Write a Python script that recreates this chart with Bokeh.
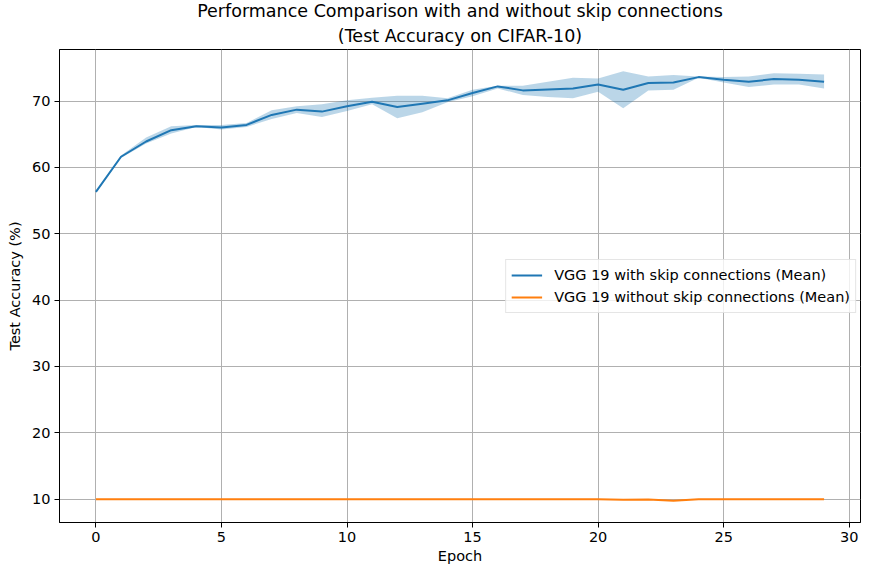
from bokeh.plotting import figure
from bokeh.models import Range1d, Title, FixedTicker, ColumnDataSource
from bokeh.embed import file_html
from bokeh.resources import INLINE

epochs = list(range(30))
mean_skip = [56.3, 61.6, 63.9, 65.6, 66.2, 66.0, 66.4, 67.9, 68.7, 68.4,
             69.2, 69.9, 69.1, 69.6, 70.1, 71.2, 72.2, 71.6, 71.75, 71.9,
             72.5, 71.7, 72.7, 72.8, 73.6, 73.2, 72.9, 73.3, 73.2, 72.9]
upper_skip = [56.4, 61.8, 64.5, 66.2, 66.4, 66.4, 66.7, 68.6, 69.2, 69.5,
              70.1, 70.5, 70.8, 70.8, 70.4, 71.7, 72.3, 72.3, 72.9, 73.5,
              73.4, 74.5, 73.7, 73.9, 73.7, 73.6, 73.7, 74.2, 74.1, 74.0]
lower_skip = [56.2, 61.4, 63.6, 65.1, 66.1, 65.7, 66.1, 67.3, 68.2, 67.6,
              68.5, 69.5, 67.4, 68.3, 69.8, 70.7, 71.9, 70.9, 70.6, 70.4,
              71.4, 68.9, 71.6, 71.7, 73.5, 72.8, 72.1, 72.5, 72.5, 71.9]
mean_noskip = [10.0, 10.0, 10.0, 10.0, 10.0, 10.0, 10.0, 10.0, 10.0, 10.0,
               10.0, 10.0, 10.0, 10.0, 10.0, 10.0, 10.0, 10.0, 10.0, 10.0,
               10.0, 9.93, 9.96, 9.78, 9.98, 10.0, 10.0, 10.0, 10.0, 10.0]
x_ticks = [0, 5, 10, 15, 20, 25, 30]
y_ticks = [10, 20, 30, 40, 50, 60, 70]

title1 = "Performance Comparison with and without skip connections"
title2 = "(Test Accuracy on CIFAR-10)"
label_skip = "VGG 19 with skip connections (Mean)"
label_noskip = "VGG 19 without skip connections (Mean)"

FONT = "DejaVu Sans"
BLUE = "#1f77b4"
ORANGE = "#ff7f0e"
TXT = "14.5px"

src = ColumnDataSource(dict(epoch=epochs, mean_skip=mean_skip, upper=upper_skip,
                            lower=lower_skip, mean_noskip=mean_noskip))

p = figure(width=862, height=566, output_backend="svg", toolbar_location=None,
           x_range=Range1d(-1.45, 30.45), y_range=Range1d(6.49, 77.76),
           min_border_left=59, min_border_right=2, min_border_top=47,
           min_border_bottom=44, title=None)

# Titles: the first one added sits closest to the frame
t2 = Title(text=title2, text_font=FONT, text_font_size="17.5px", text_font_style="normal",
           align="center", standoff=8, text_color="black")
p.add_layout(t2, "above")
t1 = Title(text=title1, text_font=FONT, text_font_size="17.5px", text_font_style="normal",
           align="center", standoff=-3, text_color="black")
p.add_layout(t1, "above")

p.varea(x="epoch", y1="lower", y2="upper", source=src, fill_color=BLUE, fill_alpha=0.3)
p.line(x="epoch", y="mean_skip", source=src, line_color=BLUE, line_width=2,
       legend_label=label_skip)
p.line(x="epoch", y="mean_noskip", source=src, line_color=ORANGE, line_width=2,
       legend_label=label_noskip)

p.xaxis.ticker = FixedTicker(ticks=x_ticks)
p.yaxis.ticker = FixedTicker(ticks=y_ticks)
p.xaxis.axis_label = "Epoch"
p.yaxis.axis_label = "Test Accuracy (%)"
for ax in (p.xaxis, p.yaxis):
    ax.axis_label_text_font = FONT
    ax.axis_label_text_font_size = TXT
    ax.axis_label_text_font_style = "normal"
    ax.axis_label_text_color = "black"
    ax.major_label_text_font = FONT
    ax.major_label_text_font_size = TXT
    ax.major_label_text_color = "black"
    ax.axis_line_color = "black"
    ax.major_tick_line_color = "black"
    ax.major_tick_out = 5
    ax.major_tick_in = 0
    ax.minor_tick_line_color = None
    ax.major_label_standoff = 4
p.xaxis.axis_label_standoff = 3
p.yaxis.axis_label_standoff = 6

p.xgrid.ticker = FixedTicker(ticks=x_ticks)
p.ygrid.ticker = FixedTicker(ticks=y_ticks)
p.grid.grid_line_color = "#b0b0b0"
p.grid.grid_line_width = 1
p.outline_line_color = "black"
p.outline_line_width = 1
p.background_fill_color = "white"
p.border_fill_color = "white"

lg = p.legend[0]
lg.location = "right"
lg.label_text_font = FONT
lg.label_text_font_size = TXT
lg.label_text_color = "black"
lg.padding = 5
lg.spacing = 2
lg.label_height = 20
lg.glyph_width = 31
lg.label_standoff = 12
lg.border_line_color = "#cccccc"
lg.background_fill_alpha = 0.8
lg.margin = 4

open("out.html", "w").write(file_html(p, INLINE))
